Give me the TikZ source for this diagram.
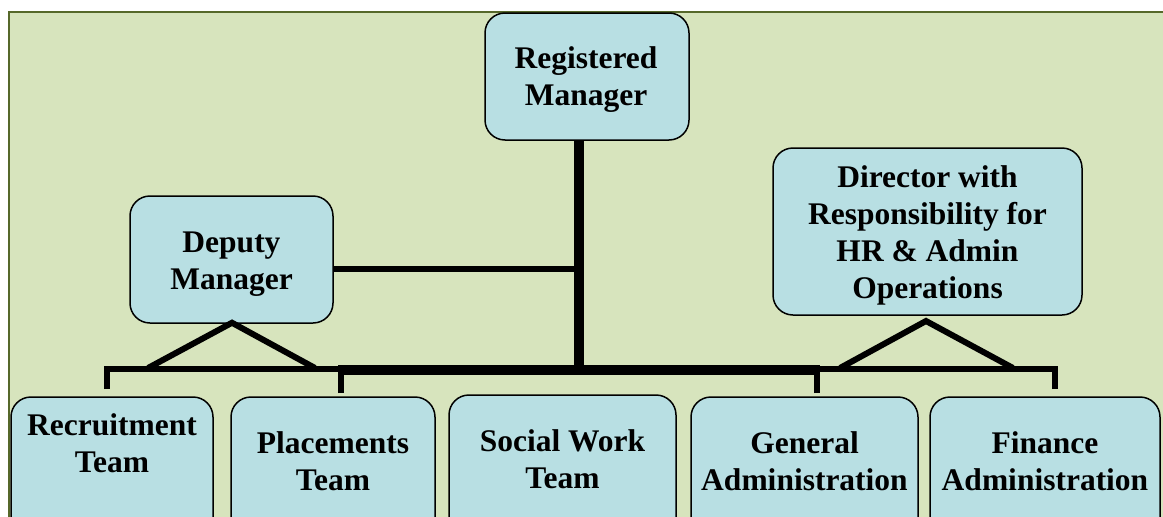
\documentclass[tikz,border=0pt]{standalone}
\usepackage{fontspec}
\setmainfont{Liberation Serif}
\usetikzlibrary{calc}
\definecolor{bgfill}{HTML}{D7E4BD}
\definecolor{frameline}{HTML}{56682A}
\definecolor{boxfill}{HTML}{B8DFE3}
\begin{document}
\begin{tikzpicture}[x=1pt,y=-1pt,
  orgbox/.style={draw=black,line width=1.5pt,fill=boxfill,rounded corners=20pt,inner sep=0pt},
  lbl/.style={font=\fontsize{31.5}{37}\selectfont\bfseries,align=center,inner sep=0pt},
  link/.style={line width=6pt,black,line cap=butt,line join=miter},
  trunk/.style={line width=10.5pt,black,line cap=butt}]
\useasboundingbox (0,0) rectangle (1163,517);
\clip (0,0) rectangle (1163,517);
\fill[white] (0,0) rectangle (1163,517);
\draw[frameline,line width=2.8pt,fill=bgfill] (9,12) rectangle (1190,560);

% boxes
\node[orgbox,minimum width=204pt,minimum height=127pt] (reg) at (587,76.5) {};
\node[orgbox,minimum width=203pt,minimum height=127pt] (dep) at (231.5,259.5) {};
\node[orgbox,minimum width=309pt,minimum height=167pt] (dir) at (927.5,231.5) {};
\node[orgbox,minimum width=202pt,minimum height=143pt] (rec) at (112,468.5) {};
\node[orgbox,minimum width=204pt,minimum height=143pt] (pla) at (333,468.5) {};
\node[orgbox,minimum width=227pt,minimum height=145pt] (soc) at (562.5,467.5) {};
\node[orgbox,minimum width=227pt,minimum height=143pt] (gen) at (804.5,468.5) {};
\node[orgbox,minimum width=230pt,minimum height=143pt] (fin) at (1045,468.5) {};

% labels
\node[lbl] (regt) at (586,80) {Registered\\Manager};
\node[lbl] (dept) at (231.5,264) {Deputy\\Manager};
\node[lbl] (dirt) at (927.5,235) {Director with\\Responsibility for\\HR \& Admin\\Operations};
\node[lbl] (rect) at (112,443) {Recruitment\\Team};
\node[lbl] (plat) at (333,461) {Placements\\Team};
\node[lbl] (soct) at (562.5,459.5) {Social Work\\Team};
\node[lbl] (gent) at (804.5,461.5) {General\\Administration};
\node[lbl] (fint) at (1045,461.5) {Finance\\Administration};

% junction points
\coordinate (busL) at (104,369);
\coordinate (busR) at (1058,369);
\coordinate (thickL) at (338,370);
\coordinate (thickR) at (820,370);
\coordinate (regJ) at (579,375);
\coordinate (depJ) at (584,269);
\coordinate (dRec) at (107,389);
\coordinate (dPla) at (341,393);
\coordinate (dGen) at (817,393);
\coordinate (dFin) at (1055,389);
\coordinate (depA) at ($(dep.south)+(0.5,-1)$);
\coordinate (depL) at (148,368);
\coordinate (depR) at (315,368);
\coordinate (dirA) at (926,321);
\coordinate (dirL) at (840,368);
\coordinate (dirR) at (1013,368);

% connectors
\draw[link] (busL) -- (busR);
\draw[trunk] (thickL) -- (thickR);
\draw[trunk] (reg.south -| regJ) -- (regJ);
\draw[link] (dep.east |- depJ) -- (depJ);
\draw[link] (dRec) -- (107,366);
\draw[link] (dPla) -- (341,366);
\draw[link] (dGen) -- (817,366);
\draw[link] (dFin) -- (1055,366);
\draw[link] (depL) -- (depA) -- (depR);
\draw[link] (dirL) -- (dirA) -- (dirR);
\end{tikzpicture}
\end{document}
